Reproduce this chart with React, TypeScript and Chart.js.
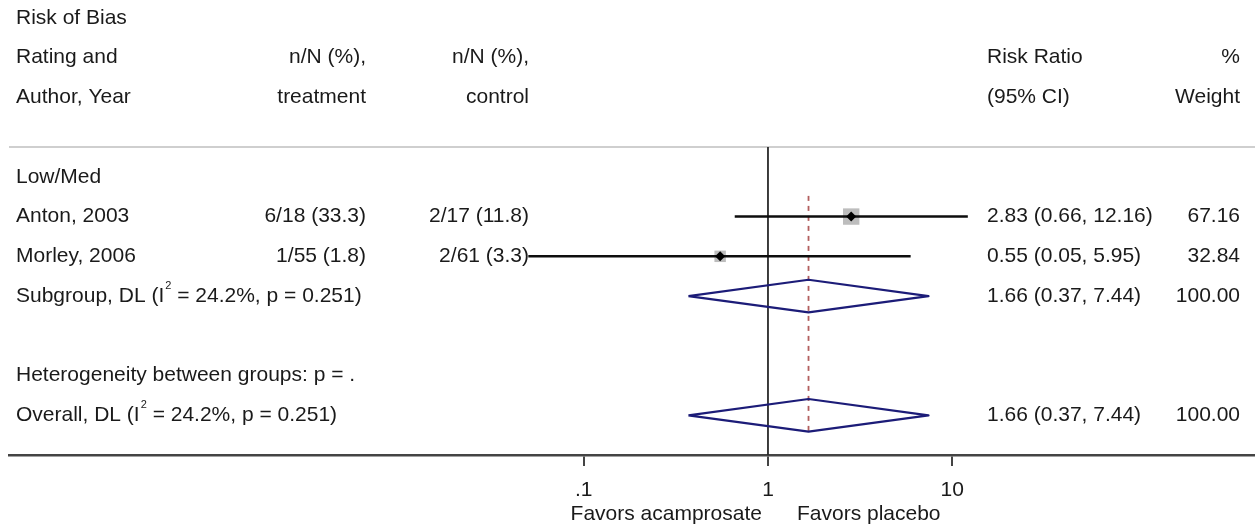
import { useEffect, useRef } from "react";
import { Chart, registerables } from "chart.js";

Chart.register(...registerables);

// ---- data ----
const groupLabel = "Low/Med";
const studyNames = ["Anton, 2003", "Morley, 2006"];
const treatmentText = ["6/18 (33.3)", "1/55 (1.8)"];
const controlText = ["2/17 (11.8)", "2/61 (3.3)"];
const studyRR = [2.83, 0.55];
const studyLo = [0.66, 0.05];
const studyHi = [12.16, 5.95];
const studyWeight = [67.16, 32.84];

const pooledNames = ["Subgroup, DL (I", "Overall, DL (I"];
const pooledStats = [" = 24.2%, p = 0.251)", " = 24.2%, p = 0.251)"];
const pooledRR = [1.66, 1.66];
const pooledLo = [0.37, 0.37];
const pooledHi = [7.44, 7.44];
const pooledWeight = [100.0, 100.0];
const hetText = "Heterogeneity between groups: p = .";

const headerCol1 = ["Risk of Bias", "Rating and", "Author, Year"];
const headerTreat = ["", "n/N (%),", "treatment"];
const headerCtrl = ["", "n/N (%),", "control"];
const headerRR = ["", "Risk Ratio", "(95% CI)"];
const headerW = ["", "%", "Weight"];

const xTicks = [0.1, 1, 10];
const xTickLabels = [".1", "1", "10"];
const favorLeft = "Favors acamprosate";
const favorRight = "Favors placebo";

// row positions (in row units from the header rule)
const headerRows = [-3.25, -2.25, -1.25];
const groupRow = 0.75;
const studyRows = [1.75, 2.75];
const subgroupRow = 3.75;
const hetRow = 5.75;
const overallRow = 6.75;
const yMax = 7.748;

const FONT_FAMILY = '"Liberation Sans", Arial, sans-serif';
const FONT = `21px ${FONT_FAMILY}`;
const TEXT = "#1a1a1a";

const fmt = (v: number) => v.toFixed(2);
const ciText = (e: number, l: number, h: number) => `${fmt(e)} (${fmt(l)}, ${fmt(h)})`;

const textPlugin = {
  id: "forestText",
  beforeDatasetsDraw(chart: any) {
    const { ctx, chartArea } = chart;
    ctx.save();
    ctx.strokeStyle = "#cfcfcf";
    ctx.lineWidth = 2;
    ctx.beginPath();
    ctx.moveTo(chartArea.left, chartArea.top);
    ctx.lineTo(chartArea.right, chartArea.top);
    ctx.stroke();
    ctx.restore();
  },
  afterDraw(chart: any) {
    const { ctx, scales } = chart;
    const xs = scales.x;
    const ys = scales.y;
    const C1 = 16, C2 = 366, C3 = 529, C4 = 987, C5 = 1240;
    ctx.save();
    ctx.font = FONT;
    ctx.fillStyle = TEXT;
    ctx.textBaseline = "middle";
    const put = (s: string, px: number, row: number, align: CanvasTextAlign) => {
      if (!s) return;
      ctx.textAlign = align;
      ctx.fillText(s, px, ys.getPixelForValue(row));
    };
    headerRows.forEach((r, i) => {
      put(headerCol1[i], C1, r, "left");
      put(headerTreat[i], C2, r, "right");
      put(headerCtrl[i], C3, r, "right");
      put(headerRR[i], C4, r, "left");
      put(headerW[i], C5, r, "right");
    });
    put(groupLabel, C1, groupRow, "left");
    studyRows.forEach((r, i) => {
      put(studyNames[i], C1, r, "left");
      put(treatmentText[i], C2, r, "right");
      put(controlText[i], C3, r, "right");
      put(ciText(studyRR[i], studyLo[i], studyHi[i]), C4, r, "left");
      put(fmt(studyWeight[i]), C5, r, "right");
    });
    const pooledRows = [subgroupRow, overallRow];
    pooledRows.forEach((r, i) => {
      const py = ys.getPixelForValue(r);
      ctx.font = FONT;
      ctx.textAlign = "left";
      ctx.fillText(pooledNames[i], C1, py);
      const w1 = ctx.measureText(pooledNames[i]).width;
      ctx.font = `11px ${FONT_FAMILY}`;
      ctx.fillText("2", C1 + w1 + 1, py - 10);
      const w2 = ctx.measureText("2").width;
      ctx.font = FONT;
      ctx.fillText(pooledStats[i], C1 + w1 + w2 + 1, py);
      put(ciText(pooledRR[i], pooledLo[i], pooledHi[i]), C4, r, "left");
      put(fmt(pooledWeight[i]), C5, r, "right");
    });
    put(hetText, C1, hetRow, "left");

    const one = xs.getPixelForValue(1);
    ctx.font = FONT;
    ctx.textAlign = "right";
    ctx.fillText(favorLeft, one - 6, 514);
    ctx.textAlign = "left";
    ctx.fillText(favorRight, one + 29, 514);
    ctx.restore();
  },
};

export default function App() {
  const ref = useRef<HTMLCanvasElement | null>(null);
  useEffect(() => {
    if (!ref.current) return;
    document.body.style.margin = "0";
    document.body.style.overflow = "hidden";
    document.documentElement.style.overflow = "hidden";
    const line = (
      pts: { x: number; y: number }[],
      color: string,
      width: number,
      order: number,
      dash: number[] = [],
      join: CanvasLineJoin = "miter"
    ) => ({
      type: "line" as const,
      data: pts,
      borderColor: color,
      borderWidth: width,
      borderDash: dash,
      borderJoinStyle: join,
      pointRadius: 0,
      fill: false,
      tension: 0,
      order,
    });
    const datasets: any[] = [];
    // null line
    datasets.push(line([{ x: 1, y: 0 }, { x: 1, y: yMax }], "#2a2a2a", 1.8, 10));
    // pooled estimate dashed line
    datasets.push(
      line(
        [
          { x: pooledRR[1], y: studyRows[0] - 0.52 },
          { x: pooledRR[1], y: overallRow + 0.5 },
        ],
        "#b25e5e",
        1.8,
        9,
        [5, 5]
      )
    );
    // weight squares
    datasets.push({
      type: "scatter",
      data: studyRows.map((r, i) => ({ x: studyRR[i], y: r })),
      pointStyle: "rect",
      pointRadius: studyWeight.map((w) => (2 * Math.sqrt(w)) / Math.SQRT2),
      backgroundColor: "#bdbdbd",
      borderWidth: 0,
      order: 8,
    });
    // CI lines
    studyRows.forEach((r, i) => {
      datasets.push(line([{ x: studyLo[i], y: r }, { x: studyHi[i], y: r }], "#0d0d0d", 2.5, 5));
    });
    // pooled diamonds
    [subgroupRow, overallRow].forEach((r, i) => {
      datasets.push(
        line(
          [
            { x: pooledLo[i], y: r },
            { x: pooledRR[i], y: r - 0.41 },
            { x: pooledHi[i], y: r },
            { x: pooledRR[i], y: r + 0.41 },
            { x: pooledLo[i], y: r },
          ],
          "#1c1c78",
          2.2,
          3,
          [],
          "round"
        )
      );
    });
    // point estimate markers
    datasets.push({
      type: "scatter",
      data: studyRows.map((r, i) => ({ x: studyRR[i], y: r })),
      pointStyle: "rectRot",
      pointRadius: 5,
      backgroundColor: "#000000",
      borderWidth: 0,
      order: 1,
    });

    const chart = new Chart(ref.current, {
      type: "scatter",
      data: { datasets },
      plugins: [textPlugin],
      options: {
        animation: false,
        responsive: false,
        devicePixelRatio: 1,
        layout: { autoPadding: false, padding: { top: 147, left: 9, right: 0, bottom: 0 } },
        plugins: { legend: { display: false }, tooltip: { enabled: false } },
        scales: {
          x: {
            type: "logarithmic",
            position: "bottom",
            bounds: "data",
            min: 7.58e-5,
            max: 440.5,
            afterBuildTicks: (scale: any) => {
              scale.ticks = xTicks.map((v) => ({ value: v }));
            },
            afterFit: (scale: any) => {
              scale.height = 74;
              scale.paddingLeft = 0;
              scale.paddingRight = 0;
            },
            ticks: {
              autoSkip: false,
              maxRotation: 0,
              color: TEXT,
              font: { family: FONT_FAMILY, size: 21 },
              padding: 12,
              callback: (v: any) => {
                const idx = xTicks.indexOf(Number(v));
                return idx >= 0 ? xTickLabels[idx] : "";
              },
            },
            grid: {
              drawOnChartArea: false,
              drawTicks: true,
              tickLength: 11,
              lineWidth: 2,
              color: "#444444",
            },
            border: { display: true, color: "#444444", width: 2.5 },
          },
          y: {
            type: "linear",
            display: false,
            reverse: true,
            min: 0,
            max: yMax,
          },
        },
      } as any,
    });
    return () => chart.destroy();
  }, []);

  return (
    <div style={{ position: "fixed", left: 0, top: 0, width: 1255, height: 529, background: "#fff" }}>
      <canvas ref={ref} width={1255} height={529} style={{ display: "block" }} />
    </div>
  );
}
